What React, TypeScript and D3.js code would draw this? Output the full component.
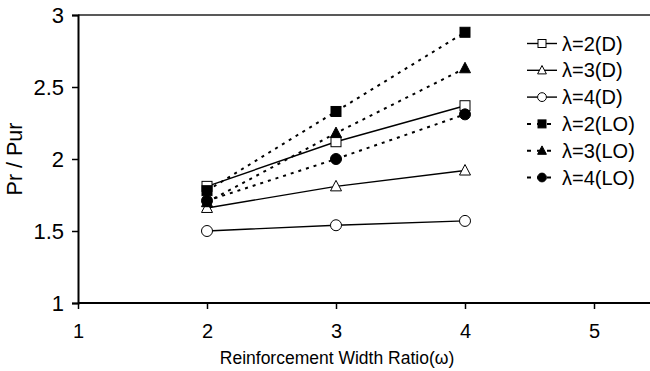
import React, { useEffect, useRef } from "react";
import * as d3 from "d3";

const ratios = [2, 3, 4];
const lam2D = [1.81, 2.12, 2.37];
const lam3D = [1.66, 1.81, 1.92];
const lam4D = [1.5, 1.54, 1.57];
const lam2LO = [1.78, 2.33, 2.88];
const lam3LO = [1.7, 2.18, 2.63];
const lam4LO = [1.71, 2.0, 2.31];
const xTicks = [1, 2, 3, 4, 5];
const yTicks = [1, 1.5, 2, 2.5, 3];

const seriesList = [
  { name: "λ=2(D)", values: lam2D, shape: "square", filled: false, dashed: false },
  { name: "λ=3(D)", values: lam3D, shape: "triangle", filled: false, dashed: false },
  { name: "λ=4(D)", values: lam4D, shape: "circle", filled: false, dashed: false },
  { name: "λ=2(LO)", values: lam2LO, shape: "square", filled: true, dashed: true },
  { name: "λ=3(LO)", values: lam3LO, shape: "triangle", filled: true, dashed: true },
  { name: "λ=4(LO)", values: lam4LO, shape: "circle", filled: true, dashed: true },
];

const App = () => {
  const svgRef = useRef<SVGSVGElement>(null);

  useEffect(() => {
    const svg = d3.select(svgRef.current);
    svg.selectAll("*").remove();
    const font = "'Liberation Sans', Arial, sans-serif";
    const left = 78;
    const top = 15;
    const bottom = 303;

    const x = d3.scaleLinear().domain([1, 5]).range([left, 594]);
    const y = d3.scaleLinear().domain([1, 3]).range([bottom, top]);

    // top frame line
    svg.append("line").attr("x1", left).attr("x2", 650).attr("y1", top).attr("y2", top)
      .attr("stroke", "#222").attr("stroke-width", 1.5);

    const yAxis = svg.append("g").attr("transform", `translate(${left},0)`)
      .call(d3.axisLeft(y).tickValues(yTicks).tickFormat(d3.format("")).tickSize(6).tickPadding(8));
    yAxis.select(".domain").attr("stroke-width", 2);
    yAxis.selectAll("line").attr("stroke-width", 1.5);
    yAxis.selectAll("text").attr("font-size", 22).attr("font-family", font).attr("fill", "#000");

    const xAxis = svg.append("g").attr("transform", `translate(0,${bottom})`)
      .call(d3.axisBottom(x).tickValues(xTicks).tickFormat(d3.format("d")).tickSize(6).tickPadding(15));
    xAxis.select(".domain").remove();
    xAxis.append("line").attr("x1", left).attr("x2", 650).attr("stroke", "#000").attr("stroke-width", 2);
    xAxis.selectAll(".tick line").attr("stroke-width", 1.5);
    xAxis.selectAll("text").attr("font-size", 20).attr("font-family", font).attr("fill", "#000");

    svg.append("text").attr("x", 337).attr("y", 364).attr("text-anchor", "middle")
      .attr("font-size", 17.5).attr("font-family", font).text("Reinforcement Width Ratio(ω)");
    svg.append("text").attr("transform", `translate(22,${(top + bottom) / 2}) rotate(-90)`)
      .attr("text-anchor", "middle").attr("font-size", 21.5).attr("font-family", font).text("Pr / Pur");

    const drawMarker = (g: any, shape: string, filled: boolean, cx: number, cy: number, k = 1) => {
      const fill = filled ? "#000" : "#fff";
      if (shape === "square") {
        g.append("rect").attr("x", cx - 5 * k).attr("y", cy - 5 * k).attr("width", 10 * k).attr("height", 10 * k)
          .attr("fill", fill).attr("stroke", "#000").attr("stroke-width", 1);
      } else if (shape === "triangle") {
        const p = d3.path();
        p.moveTo(cx, cy - 6 * k);
        p.lineTo(cx + 5.5 * k, cy + 4.5 * k);
        p.lineTo(cx - 5.5 * k, cy + 4.5 * k);
        p.closePath();
        g.append("path").attr("d", p.toString()).attr("fill", fill).attr("stroke", "#000").attr("stroke-width", 1);
      } else {
        g.append("circle").attr("cx", cx).attr("cy", cy).attr("r", 5.5 * k)
          .attr("fill", fill).attr("stroke", "#000").attr("stroke-width", 1);
      }
    };

    const line = d3.line<number>().x((_, i) => x(ratios[i])).y((d) => y(d));

    seriesList.forEach((s) => {
      svg.append("path").attr("d", line(s.values)).attr("fill", "none").attr("stroke", "#000")
        .attr("stroke-width", s.dashed ? 2 : 1.4).attr("stroke-dasharray", s.dashed ? "3,5" : null);
    });
    seriesList.forEach((s) => {
      const g = svg.append("g");
      s.values.forEach((v, i) => drawMarker(g, s.shape, s.filled, x(ratios[i]), y(v)));
    });

    // legend
    const lg = svg.append("g");
    seriesList.forEach((s, i) => {
      const ly = 43.5 + i * 26.8;
      lg.append("line").attr("x1", 527).attr("x2", 557).attr("y1", ly).attr("y2", ly)
        .attr("stroke", "#000").attr("stroke-width", s.dashed ? 2 : 1.4)
        .attr("stroke-dasharray", s.dashed ? "4,6" : null);
      const g = lg.append("g");
      drawMarker(g, s.shape, s.filled, 542, ly, 0.8);
      lg.append("text").attr("x", 562).attr("y", ly + 7).attr("font-size", 20)
        .attr("font-family", font).text(s.name);
    });
  }, []);

  return <svg ref={svgRef} width={650} height={371} style={{ position: "absolute", left: 0, top: 0, background: "#fff" }} />;
};

export default App;
